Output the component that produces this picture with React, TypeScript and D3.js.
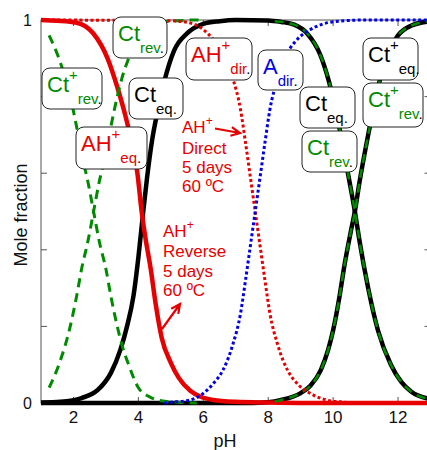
import * as d3 from "d3";

// pH values and mole fractions
const ahEqPh = [1.0, 1.5, 2.1, 2.6, 3.05, 3.35, 3.6, 3.82, 3.97, 4.1, 4.22, 4.38, 4.53, 4.72, 5.0, 5.25, 5.6, 5.9, 6.3, 7.0, 8.0, 9.0, 13.0];
const ahEqFrac = [1.0, 0.998, 0.993, 0.966, 0.9, 0.825, 0.75, 0.67, 0.6, 0.5, 0.43, 0.35, 0.26, 0.17, 0.105, 0.065, 0.032, 0.017, 0.008, 0.003, 0.001, 0.0, 0.0];

const ctEqPh = [1.0, 1.6, 2.25, 2.75, 3.15, 3.45, 3.65, 3.85, 4.0, 4.15, 4.27, 4.43, 4.6, 4.8, 5.1, 5.5, 6.0, 6.5, 7.0, 8.0, 8.4, 8.8, 9.2, 9.6, 9.87, 10.1, 10.3, 10.5, 10.67, 10.8, 11.08, 11.38, 11.78, 12.1, 12.4, 13.0];
const ctEqFrac = [0.001, 0.003, 0.013, 0.034, 0.078, 0.14, 0.2, 0.28, 0.38, 0.5, 0.59, 0.69, 0.765, 0.84, 0.92, 0.965, 0.99, 0.997, 1.0, 0.999, 0.995, 0.988, 0.965, 0.91, 0.84, 0.76, 0.67, 0.58, 0.5, 0.43, 0.3, 0.19, 0.1, 0.055, 0.03, 0.01];

const ctPlusEqPh = [1.0, 7.5, 8.0, 8.4, 9.0, 9.3, 9.62, 9.85, 10.0, 10.2, 10.35, 10.55, 10.67, 10.8, 11.08, 11.4, 11.7, 12.0, 12.4, 13.0];
const ctPlusEqFrac = [0.0, 0.0, 0.002, 0.008, 0.026, 0.045, 0.086, 0.14, 0.19, 0.28, 0.36, 0.45, 0.5, 0.57, 0.7, 0.83, 0.915, 0.96, 0.985, 0.997];

const ctPlusRevLowPh = [1.25, 1.55, 1.9, 2.1, 2.25, 2.44, 2.62, 2.8, 3.0, 3.15, 3.35, 3.5, 3.7, 4.0, 4.3, 4.7, 5.2, 5.8];
const ctPlusRevLowFrac = [0.96, 0.9, 0.8, 0.72, 0.65, 0.58, 0.5, 0.42, 0.35, 0.28, 0.2, 0.15, 0.1, 0.04, 0.018, 0.006, 0.002, 0.0];

const ctRevLowPh = [1.25, 1.55, 1.9, 2.1, 2.25, 2.44, 2.62, 2.8, 3.0, 3.15, 3.35, 3.5, 3.7, 4.0, 4.3, 4.7, 5.2, 5.8, 6.0];
const ctRevLowFrac = [0.04, 0.1, 0.2, 0.28, 0.35, 0.42, 0.5, 0.58, 0.65, 0.72, 0.8, 0.85, 0.9, 0.96, 0.982, 0.994, 0.998, 1.0, 1.0];

const ctRevHighPh = [8.2, 8.8, 9.2, 9.6, 9.87, 10.1, 10.3, 10.5, 10.67, 10.8, 11.08, 11.38, 11.78, 12.1, 12.4, 13.0];
const ctRevHighFrac = [0.997, 0.988, 0.965, 0.91, 0.84, 0.76, 0.67, 0.58, 0.5, 0.43, 0.3, 0.19, 0.1, 0.055, 0.03, 0.01];

const ctPlusRevHighPh = [8.2, 8.4, 9.0, 9.3, 9.62, 9.85, 10.0, 10.2, 10.35, 10.55, 10.67, 10.8, 11.08, 11.4, 11.7, 12.0, 12.4, 13.0];
const ctPlusRevHighFrac = [0.004, 0.008, 0.026, 0.045, 0.086, 0.14, 0.19, 0.28, 0.36, 0.45, 0.5, 0.57, 0.7, 0.83, 0.915, 0.96, 0.985, 0.997];

const ahDirPh = [1.0, 5.0, 5.5, 6.0, 6.3, 6.6, 6.9, 7.15, 7.3, 7.45, 7.6, 7.75, 7.9, 8.05, 8.3, 8.6, 8.9, 9.3, 9.7, 10.2, 11.0, 13.0];
const ahDirFrac = [1.0, 0.998, 0.994, 0.975, 0.95, 0.915, 0.85, 0.765, 0.68, 0.59, 0.5, 0.41, 0.32, 0.235, 0.15, 0.085, 0.05, 0.025, 0.01, 0.003, 0.0, 0.0];

const aDirPh = [4.8, 5.0, 5.5, 6.0, 6.3, 6.6, 6.9, 7.15, 7.3, 7.45, 7.6, 7.75, 7.9, 8.05, 8.3, 8.6, 8.9, 9.3, 9.7, 10.2, 11.0, 13.0];
const aDirFrac = [0.0, 0.002, 0.006, 0.025, 0.05, 0.085, 0.15, 0.235, 0.32, 0.41, 0.5, 0.59, 0.68, 0.765, 0.85, 0.915, 0.95, 0.975, 0.99, 0.997, 1.0, 1.0];

const xTicks = [2, 4, 6, 8, 10, 12];
const yTicks = [0, 0.2, 0.4, 0.6, 0.8, 1];
const yTickLabels = ["0", "", "", "", "", "1"];

const RED = "#e60000";
const GREEN = "#008a00";
const BLUE = "#0000e6";
const BLACK = "#000";
const FONT = "'Liberation Sans', Arial, Helvetica, sans-serif";

const W = 427,
  H = 450;
const plot = { left: 41, right: 430.5, top: 20, bottom: 403 };

const x = d3.scaleLinear().domain([1, 13]).range([plot.left, plot.right]);
const y = d3.scaleLinear().domain([0, 1]).range([plot.bottom, plot.top]);

const line = d3
  .line<[number, number]>()
  .x((d) => x(d[0]))
  .y((d) => y(d[1]))
  .curve(d3.curveMonotoneX);

const pts = (ph: number[], fr: number[]) => ph.map((p, i) => [p, fr[i]] as [number, number]);

// drawing order matters: green dashes sit on top of the black curves
const series = [
  { d: pts(ctPlusEqPh, ctPlusEqFrac), color: BLACK, width: 4.5, dash: undefined },
  { d: pts(ctEqPh, ctEqFrac), color: BLACK, width: 4.5, dash: undefined },
  { d: pts(ahEqPh, ahEqFrac), color: RED, width: 4.5, dash: undefined },
  { d: pts(ctPlusRevLowPh, ctPlusRevLowFrac), color: GREEN, width: 3, dash: "9,6" },
  { d: pts(ctRevLowPh, ctRevLowFrac), color: GREEN, width: 3, dash: "9,6" },
  { d: pts(ctRevHighPh, ctRevHighFrac), color: GREEN, width: 2.5, dash: "9,6" },
  { d: pts(ctPlusRevHighPh, ctPlusRevHighFrac), color: GREEN, width: 2.5, dash: "9,6" },
  { d: pts(ahDirPh, ahDirFrac), color: RED, width: 3, dash: "3,2.5" },
  { d: pts(aDirPh, aDirFrac), color: BLUE, width: 3, dash: "3,2.5" },
];

const boxes = [
  { x: 42, y: 68, w: 60, h: 41, main: "Ct", sup: true, sub: "rev", color: GREEN },
  { x: 113, y: 17, w: 54, h: 41, main: "Ct", sup: false, sub: "rev", color: GREEN },
  { x: 76, y: 127, w: 71, h: 42, main: "AH", sup: true, sub: "eq", color: RED },
  { x: 129, y: 78, w: 54, h: 41, main: "Ct", sup: false, sub: "eq", color: BLACK },
  { x: 186, y: 38, w: 66, h: 42, main: "AH", sup: true, sub: "dir", color: RED },
  { x: 258, y: 50, w: 45, h: 40, main: "A", sup: false, sub: "dir", color: BLUE },
  { x: 300, y: 87, w: 55, h: 41, main: "Ct", sup: false, sub: "eq", color: BLACK },
  { x: 302, y: 131, w: 55, h: 41, main: "Ct", sup: false, sub: "rev", color: GREEN },
  { x: 363, y: 38, w: 55, h: 42, main: "Ct", sup: true, sub: "eq", color: BLACK },
  { x: 363, y: 83, w: 60, h: 44, main: "Ct", sup: true, sub: "rev", color: GREEN },
];

const notes = [
  { x: 182, y: [133, 154, 173, 192], lines: ["Direct", "5 days", "60 ºC"] },
  { x: 163, y: [237, 257, 277, 296], lines: ["Reverse", "5 days", "60 ºC"] },
];

const arrow = (x1: number, y1: number, x2: number, y2: number) => {
  const a = Math.atan2(y2 - y1, x2 - x1);
  const len = 10,
    sp = 0.45;
  const h1 = [x2 - len * Math.cos(a - sp), y2 - len * Math.sin(a - sp)];
  const h2 = [x2 - len * Math.cos(a + sp), y2 - len * Math.sin(a + sp)];
  return `M${x1},${y1}L${x2},${y2}M${h1[0]},${h1[1]}L${x2},${y2}L${h2[0]},${h2[1]}`;
};

export default function App() {
  return (
    <svg
      width={W}
      height={H}
      style={{ position: "absolute", left: 0, top: 0, background: "#fff" }}
      fontFamily={FONT}
    >
      {/* frame */}
      <rect
        x={plot.left}
        y={plot.top}
        width={plot.right - plot.left}
        height={plot.bottom - plot.top}
        fill="none"
        stroke="#555"
        strokeWidth={1}
      />
      {xTicks.map((t) => (
        <g key={"x" + t}>
          <line x1={x(t)} x2={x(t)} y1={plot.bottom} y2={plot.bottom - 6} stroke="#555" />
          <line x1={x(t)} x2={x(t)} y1={plot.top} y2={plot.top + 6} stroke="#555" />
          <text x={x(t)} y={423} fontSize={17} textAnchor="middle" fill="#111">
            {t}
          </text>
        </g>
      ))}
      {yTicks.map((t, i) => (
        <g key={"y" + t}>
          <line x1={plot.left} x2={plot.left + 6} y1={y(t)} y2={y(t)} stroke="#555" />
          <line x1={plot.right} x2={plot.right - 6} y1={y(t)} y2={y(t)} stroke="#555" />
          <text x={32} y={y(t) + 6} fontSize={16} textAnchor="end" fill="#111">
            {yTickLabels[i]}
          </text>
        </g>
      ))}
      <text x={225} y={447} fontSize={18} textAnchor="middle" fill="#111">
        pH
      </text>
      <text transform="translate(27,215) rotate(-90)" fontSize={18} textAnchor="middle" fill="#111">
        Mole fraction
      </text>

      {series.map((s, i) => (
        <path
          key={i}
          d={line(s.d) ?? ""}
          fill="none"
          stroke={s.color}
          strokeWidth={s.width}
          strokeDasharray={s.dash}
        />
      ))}

      {boxes.map((b, i) => (
        <g key={"b" + i}>
          <rect x={b.x} y={b.y} width={b.w} height={b.h} rx={8} fill="#fff" stroke="#222" strokeWidth={1} />
          <text x={b.x + 5} y={b.y + 24} fontSize={22} fill={b.color}>
            {b.main}
            {b.sup ? (
              <tspan y={b.y + 12} fontSize={15}>
                +
              </tspan>
            ) : null}
            <tspan y={b.y + 36} fontSize={15}>
              {b.sub}
            </tspan>
            <tspan fill="#000" fontSize={15}>
              .
            </tspan>
          </text>
        </g>
      ))}

      {notes.map((n, i) => (
        <g key={"n" + i} fill={RED} fontSize={17}>
          <text x={n.x} y={n.y[0]}>
            AH
            <tspan y={n.y[0] - 8} fontSize={12}>
              +
            </tspan>
          </text>
          {n.lines.map((l, j) => (
            <text key={j} x={n.x} y={n.y[j + 1]}>
              {l}
            </text>
          ))}
        </g>
      ))}
      <path d={arrow(215, 128.5, 240, 133)} fill="none" stroke={RED} strokeWidth={2.2} />
      <path d={arrow(162, 329, 180, 304)} fill="none" stroke={RED} strokeWidth={2.2} />
    </svg>
  );
}
